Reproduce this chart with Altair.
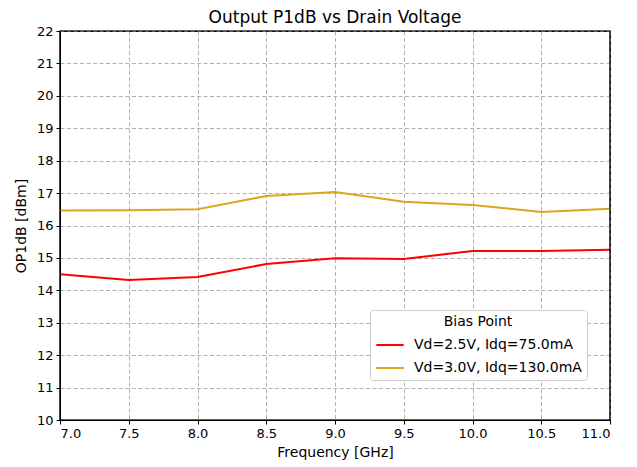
import altair as alt
import pandas as pd

freq = [7.0, 7.5, 8.0, 8.5, 9.0, 9.5, 10.0, 10.5, 11.0]
series_names = ["Vd=2.5V, Idq=75.0mA", "Vd=3.0V, Idq=130.0mA"]
op1db_a = [14.50, 14.32, 14.41, 14.81, 14.99, 14.97, 15.21, 15.21, 15.25]
op1db_b = [16.46, 16.47, 16.50, 16.91, 17.03, 16.73, 16.63, 16.42, 16.52]
colors = ["#ff0000", "#daa520"]

rows = []
for name, vals in zip(series_names, [op1db_a, op1db_b]):
    for f, v in zip(freq, vals):
        rows.append({"Frequency": f, "OP1dB": v, "Bias": name})
df = pd.DataFrame(rows)

font = "DejaVu Sans"
W, H = 550, 389

lines = alt.Chart(df).mark_line(strokeWidth=2, clip=True).encode(
    x=alt.X("Frequency:Q", scale=alt.Scale(domain=[7.0, 11.0], nice=False, zero=False),
            axis=alt.Axis(title="Frequency [GHz]", values=freq, format=".1f",
                          grid=True, gridDash=[4, 2.5], gridColor="#b0b0b0",
                          tickColor="black", domainColor="black", labelColor="black",
                          labelFontSize=13, titleFontSize=14, labelFont=font, titleFont=font,
                          titleColor="black",
                          titleFontWeight="normal", tickSize=4, labelPadding=3, titlePadding=5)),
    y=alt.Y("OP1dB:Q", scale=alt.Scale(domain=[10, 22], nice=False, zero=False),
            axis=alt.Axis(title="OP1dB [dBm]", values=list(range(10, 23)), format="d",
                          grid=True, gridDash=[4, 2.5], gridColor="#b0b0b0",
                          tickColor="black", domainColor="black", labelColor="black",
                          labelFontSize=13, titleFontSize=14, labelFont=font, titleFont=font,
                          titleColor="black",
                          titleFontWeight="normal", tickSize=4, labelPadding=3, titlePadding=8)),
    color=alt.Color("Bias:N", scale=alt.Scale(domain=series_names, range=colors),
                    legend=alt.Legend(title="Bias Point", orient="none", legendX=310, legendY=279,
                                      titleAnchor="middle", titleFontSize=14, labelFontSize=14,
                                      titleFont=font, labelFont=font, titleFontWeight="normal",
                                      symbolType="stroke", symbolStrokeWidth=2, symbolSize=750,
                                      fillColor="white", strokeColor="#cccccc", cornerRadius=3,
                                      padding=5, rowPadding=1, titlePadding=1, labelColor="black",
                                      titleColor="black", labelOffset=9, labelLimit=400)),
)

frame = alt.Chart(pd.DataFrame({"k": [0]})).mark_rect(
    fill=None, stroke="black", strokeWidth=1.2
).encode(x=alt.value(0), x2=alt.value(W), y=alt.value(0), y2=alt.value(H))

chart = alt.layer(lines, frame).properties(
    width=W, height=H,
    title=alt.TitleParams("Output P1dB vs Drain Voltage", fontSize=17, font=font,
                          fontWeight="normal", anchor="middle", offset=-2, color="black"),
    autosize=alt.AutoSizeParams(type="none"),
    padding={"left": 52, "top": 23, "right": 19, "bottom": 47},
).configure_view(stroke="black", strokeWidth=1.2)

chart.save("out.html", embed_options={"renderer": "svg", "actions": False})
